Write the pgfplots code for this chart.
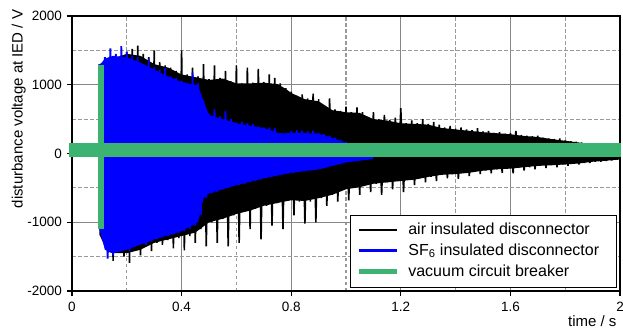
\documentclass[border=0pt]{standalone}
\usepackage{pgfplots}
\pgfplotsset{compat=1.18}
\usepackage{fontspec}
\setmainfont{Liberation Sans}
\definecolor{vcbgreen}{RGB}{60,179,113}
\definecolor{gridgray}{RGB}{135,135,135}
\begin{document}
\begin{tikzpicture}
\begin{axis}[
 name=ax, scale only axis, width=548pt, height=275pt,
 xmin=0, xmax=2, ymin=-2000, ymax=2000,
 xtick={0,0.4,0.8,1.2,1.6,2}, minor xtick={0.2,0.6,1.0,1.4,1.8},
 ytick={-2000,-1000,0,1000,2000}, minor ytick={-1500,-500,500,1500},
 grid=both,
 major grid style={draw=gridgray, line width=1.1pt},
 minor grid style={draw=gridgray!85, line width=1.1pt, dash pattern=on 3.5pt off 2.5pt},
 tick align=outside, tick pos=left, major tick length=5pt, minor tick length=0pt,
 tick style={black, line width=1.1pt},
 axis line style={line width=1.5pt},
 tick label style={font=\fontsize{13.5}{15}\selectfont, inner sep=1pt},
 xticklabel style={yshift=-5pt},
 yticklabel style={xshift=-4pt},
 /pgf/number format/assume math mode=true,
 /pgf/number format/1000 sep={},
 xlabel={time / s}, ylabel={disturbance voltage at IED / V},
 every axis x label/.style={at={(axis description cs:1,0)}, anchor=base east, xshift=-3.3pt, yshift=-35pt, inner sep=0pt, font=\fontsize{15}{17}\selectfont},
 every axis y label/.style={at={(axis description cs:-0.0974,0.662)}, rotate=90, anchor=center, inner sep=0pt, font=\fontsize{15}{17}\selectfont},
 clip=false,
 legend cell align=left,
 legend style={at={(0.9945,0.011)}, anchor=south east, draw=black, line width=1.3pt, fill=white,
   font=\fontsize{16}{18}\selectfont, inner xsep=6pt, inner ysep=7.5pt, row sep=6pt, column sep=9pt,
   nodes={inner sep=0pt, text height=11.5pt, text depth=3.5pt}},
 legend image code/.code={\draw[#1] (0pt,0.5pt) -- (38pt,0.5pt);},
]
% air insulated disconnector: core body
\addplot[forget plot, fill=black, draw=none] coordinates {
(0.1,1300)(0.15,1380)(0.2,1450)(0.25,1420)(0.3,1300)(0.35,1250)(0.4,1150)(0.45,1110)(0.5,1070)(0.55,1090)(0.6,1020)(0.65,1020)(0.7,1030)(0.75,1010)(0.78,940)(0.8,880)(0.85,790)(0.9,760)(0.95,630)(1.0,600)(1.05,590)(1.1,500)(1.15,480)(1.2,440)(1.25,430)(1.3,420)(1.35,370)(1.4,350)(1.45,330)(1.5,310)(1.55,295)(1.6,280)(1.65,255)(1.7,240)(1.75,210)(1.8,185)(1.85,160)(1.9,125)(1.95,80)(2.0,30)
(2.0,-85)(1.95,-105)(1.9,-120)(1.85,-145)(1.8,-160)(1.75,-170)(1.7,-180)(1.65,-200)(1.6,-220)(1.55,-230)(1.5,-250)(1.45,-280)(1.4,-300)(1.35,-310)(1.3,-340)(1.25,-380)(1.2,-400)(1.15,-420)(1.1,-440)(1.05,-490)(1.0,-520)(0.95,-600)(0.9,-650)(0.85,-690)(0.8,-680)(0.75,-720)(0.7,-760)(0.65,-830)(0.6,-880)(0.55,-950)(0.5,-1000)(0.45,-1150)(0.4,-1200)(0.35,-1250)(0.3,-1300)(0.25,-1400)(0.2,-1450)(0.15,-1450)(0.13,-1430)(0.1,-1180)
};
% air insulated disconnector: oscillation
\addplot[forget plot, black, line width=1.6pt, line join=miter, miter limit=2] table {
0.10 1300
0.11 -1200
0.12 1380
0.13 -1450
0.14 1420
0.15 -1560
0.16 1400
0.17 -1420
0.18 1430
0.19 -1500
0.20 1480
0.21 -1590
0.22 1520
0.23 -1400
0.24 1570
0.25 -1480
0.26 1450
0.27 -1350
0.28 1400
0.29 -1420
0.30 1500
0.31 -1300
0.32 1330
0.33 -1330
0.34 1280
0.35 -1260
0.36 1250
0.37 -1380
0.38 1200
0.39 -1230
0.40 1500
0.41 -1410
0.42 1150
0.43 -1200
0.44 1250
0.45 -1300
0.46 1120
0.47 -1100
0.48 1300
0.49 -1350
0.50 1080
0.51 -1000
0.52 1280
0.53 -1300
0.54 1100
0.55 -950
0.56 1200
0.57 -1350
0.58 1050
0.59 -900
0.60 1280
0.61 -1300
0.62 1020
0.63 -850
0.64 1250
0.65 -1100
0.66 1030
0.67 -800
0.68 1230
0.69 -1250
0.70 1040
0.71 -760
0.72 1150
0.73 -1050
0.74 1100
0.75 -720
0.76 1020
0.77 -1100
0.78 950
0.79 -680
0.80 900
0.81 -900
0.82 840
0.83 -700
0.84 860
0.85 -1020
0.86 800
0.87 -700
0.88 870
0.89 -1000
0.90 790
0.91 -650
0.92 700
0.93 -760
0.94 800
0.95 -600
0.96 640
0.97 -700
0.98 620
0.99 -520
1.00 680
1.01 -680
1.02 600
1.03 -500
1.04 670
1.05 -600
1.06 600
1.07 -460
1.08 520
1.09 -560
1.10 600
1.11 -440
1.12 500
1.13 -600
1.14 560
1.15 -420
1.16 490
1.17 -520
1.18 520
1.19 -400
1.20 660
1.21 -560
1.22 440
1.23 -380
1.24 480
1.25 -460
1.26 440
1.27 -360
1.28 500
1.29 -420
1.30 430
1.31 -340
1.32 460
1.33 -400
1.34 420
1.35 -310
1.36 380
1.37 -360
1.38 400
1.39 -300
1.40 360
1.41 -370
1.42 380
1.43 -280
1.44 350
1.45 -330
1.46 340
1.47 -260
1.48 370
1.49 -300
1.50 320
1.51 -250
1.52 330
1.53 -290
1.54 300
1.55 -230
1.56 310
1.57 -280
1.58 290
1.59 -220
1.60 300
1.61 -290
1.62 330
1.63 -210
1.64 270
1.65 -250
1.66 260
1.67 -200
1.68 250
1.69 -230
1.70 260
1.71 -180
1.72 230
1.73 -210
1.74 220
1.75 -170
1.76 210
1.77 -200
1.78 220
1.79 -160
1.80 190
1.81 -180
1.82 180
1.83 -150
1.84 170
1.85 -160
1.86 160
1.87 -140
1.88 140
1.89 -140
1.90 130
1.91 -120
1.92 110
1.93 -120
1.94 90
1.95 -110
1.96 70
1.97 -100
1.98 50
1.99 -90
2.00 30
};
% SF6 insulated disconnector: core body
\addplot[forget plot, fill=blue, draw=none] coordinates {
(0.1,1280)(0.12,1380)(0.15,1420)(0.2,1400)(0.25,1320)(0.3,1220)(0.35,1120)(0.4,1040)(0.46,990)(0.48,760)(0.5,560)(0.6,440)(0.7,370)(0.76,290)(0.8,300)(0.9,290)(1.0,160)(1.1,50)
(1.1,-80)(1.0,-130)(0.9,-230)(0.8,-280)(0.7,-360)(0.6,-460)(0.5,-580)(0.48,-650)(0.46,-1000)(0.4,-1130)(0.3,-1250)(0.2,-1400)(0.15,-1450)(0.12,-1400)(0.1,-1100)
};
% SF6 insulated disconnector: oscillation
\addplot[forget plot, blue, line width=1.8pt, line join=miter, miter limit=2] table {
0.10 1300
0.11 -1100
0.12 1400
0.13 -1530
0.14 1530
0.15 -1480
0.16 1450
0.17 -1420
0.18 1560
0.19 -1400
0.20 1480
0.21 -1420
0.22 1420
0.23 -1350
0.24 1400
0.25 -1300
0.26 1300
0.27 -1330
0.28 1380
0.29 -1280
0.30 1260
0.31 -1250
0.32 1220
0.33 -1220
0.34 1250
0.35 -1200
0.36 1120
0.37 -1180
0.38 1100
0.39 -1150
0.40 1060
0.41 -1130
0.42 1020
0.43 -1100
0.44 1180
0.45 -1050
0.46 1020
0.47 -900
0.48 780
0.49 -650
0.50 580
0.51 -580
0.52 640
0.53 -560
0.54 540
0.55 -520
0.56 620
0.57 -500
0.58 500
0.59 -470
0.60 450
0.61 -460
0.62 460
0.63 -440
0.64 440
0.65 -420
0.66 430
0.67 -400
0.68 390
0.69 -380
0.70 380
0.71 -360
0.72 380
0.73 -340
0.74 370
0.75 -320
0.76 300
0.77 -300
0.78 270
0.79 -290
0.80 320
0.81 -280
0.82 340
0.83 -270
0.84 330
0.85 -260
0.86 320
0.87 -250
0.88 330
0.89 -240
0.90 300
0.91 -220
0.92 280
0.93 -200
0.94 260
0.95 -180
0.96 230
0.97 -160
0.98 200
0.99 -140
1.00 170
1.01 -120
1.02 130
1.03 -110
1.04 100
1.05 -100
1.06 80
1.07 -90
1.08 60
1.09 -80
1.10 50
};
% vacuum circuit breaker
\addplot[forget plot, color=vcbgreen, line width=14pt] coordinates {(-0.012,45)(2.005,45)};
\addplot[forget plot, color=vcbgreen, line width=6.5pt] coordinates {(0.105,-1100)(0.105,1280)};
\addlegendimage{black, line width=2pt}
\addlegendentry{\makebox[202pt][l]{air insulated disconnector}}
\addlegendimage{blue, line width=2.7pt}
\addlegendentry{SF\textsubscript{6} insulated disconnector}
\addlegendimage{vcbgreen, line width=5pt}
\addlegendentry{vacuum circuit breaker}
\end{axis}
\pgfresetboundingbox
\path[use as bounding box] ([shift={(-72pt,-38pt)}]ax.south west) rectangle ([shift={(3pt,16pt)}]ax.north east);
\end{tikzpicture}
\end{document}
